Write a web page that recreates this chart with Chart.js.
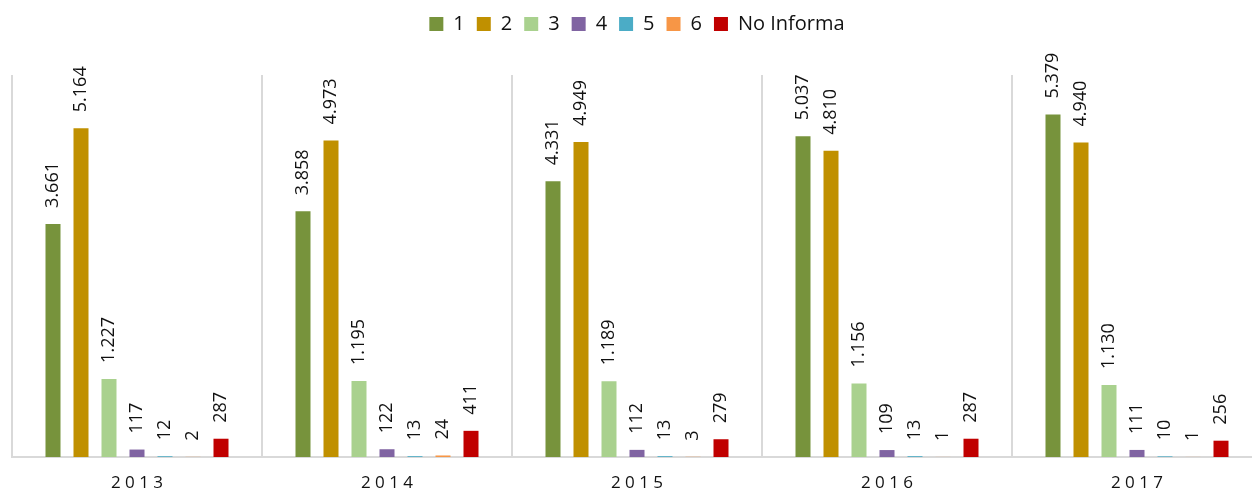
<!DOCTYPE html>
<html>
<head>
<meta charset="utf-8">
<script src="https://cdn.jsdelivr.net/npm/chart.js@4.4.1/dist/chart.umd.min.js"></script>
<style>
  html, body { margin: 0; padding: 0; background: #fff; overflow: hidden; }
  #wrap { width: 1252px; height: 494px; overflow: hidden; }
  canvas { display: block; }
</style>
</head>
<body>
<div id="wrap"><canvas id="c" width="1282" height="494"></canvas></div>
<script>
const years = ['2013', '2014', '2015', '2016', '2017'];
const seriesNames = ['1', '2', '3', '4', '5', '6', 'No Informa'];
const s1 = [3661, 3858, 4331, 5037, 5379];
const s2 = [5164, 4973, 4949, 4810, 4940];
const s3 = [1227, 1195, 1189, 1156, 1130];
const s4 = [117, 122, 112, 109, 111];
const s5 = [12, 13, 13, 13, 10];
const s6 = [2, 24, 3, 1, 1];
const sNo = [287, 411, 279, 287, 256];
const colors = ['#77933C', '#C09000', '#A9D18E', '#8064A2', '#4BACC6', '#F79646', '#C00000'];
const yMax = 6000;

const allSeries = [s1, s2, s3, s4, s5, s6, sNo];

function fmt(v) {
  return String(v).replace(/\B(?=(\d{3})+(?!\d))/g, '.');
}

const datasets = allSeries.map((d, i) => ({
  label: seriesNames[i],
  data: d,
  backgroundColor: colors[i],
  borderWidth: 0,
  categoryPercentage: 0.784,
  barPercentage: 0.536
}));

const legendHeight = {
  id: 'legendHeight',
  beforeInit(chart) {
    const orig = chart.legend.fit;
    chart.legend.fit = function () {
      orig.bind(chart.legend)();
      this.height = 73;
    };
  }
};

const valueLabels = {
  id: 'valueLabels',
  afterDatasetsDraw(chart) {
    const ctx = chart.ctx;
    ctx.save();
    ctx.font = '18px "Open Sans"';
    ctx.fillStyle = '#111';
    ctx.textAlign = 'left';
    ctx.textBaseline = 'middle';
    chart.data.datasets.forEach((ds, di) => {
      const meta = chart.getDatasetMeta(di);
      meta.data.forEach((bar, i) => {
        ctx.save();
        ctx.translate(bar.x, bar.y - 16);
        ctx.rotate(-Math.PI / 2);
        ctx.fillText(fmt(ds.data[i]), 0, 0);
        ctx.restore();
      });
    });
    ctx.restore();
  }
};

new Chart(document.getElementById('c'), {
  type: 'bar',
  data: { labels: years, datasets: datasets },
  options: {
    responsive: false,
    animation: false,
    layout: { padding: { top: 2, left: 12, right: 20, bottom: 0 } },
    plugins: {
      legend: {
        position: 'top',
        labels: {
          boxWidth: 14,
          boxHeight: 14,
          padding: 12,
          color: '#111',
          font: { family: '"Open Sans"', size: 20 }
        }
      },
      tooltip: { enabled: false }
    },
    scales: {
      x: {
        grid: { color: '#d9d9d9', lineWidth: 2, drawTicks: false, offset: true },
        border: { color: '#d9d9d9', width: 2 },
        afterFit: function (scale) { scale.height = 37; },
        ticks: {
          color: '#111',
          padding: 16,
          maxRotation: 0,
          font: { family: '"Open Sans"', size: 17 },
          callback: function (v, i) { return years[i].split('').join(' '); }
        }
      },
      y: {
        display: false,
        min: 0,
        max: yMax
      }
    }
  },
  plugins: [legendHeight, valueLabels]
});
</script>
</body>
</html>
